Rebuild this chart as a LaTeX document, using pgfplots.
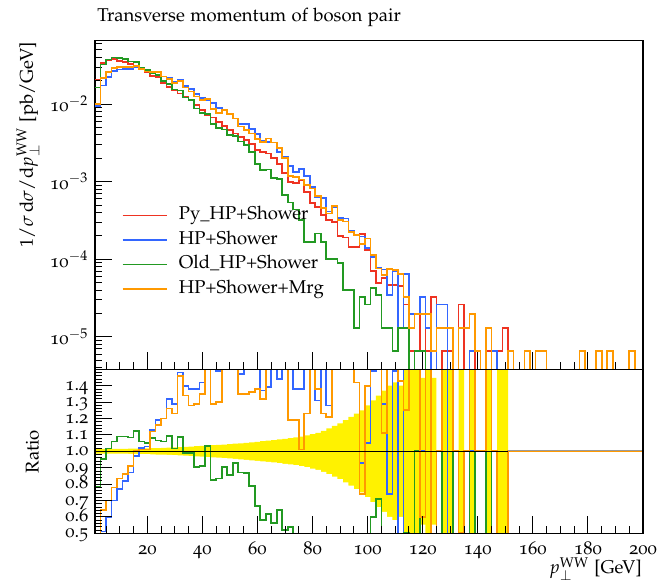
\documentclass[border=0pt]{standalone}
\usepackage[T1]{fontenc}
\usepackage[osf]{mathpazo}
\usepackage{pgfplots}
\pgfplotsset{compat=1.18}
\usepackage{pgfplotstable}

\definecolor{cred}{RGB}{238,51,34}
\definecolor{cblue}{RGB}{51,102,255}
\definecolor{cgreen}{RGB}{34,153,34}
\definecolor{corange}{RGB}{255,153,0}

\pgfplotstableread{
x y
1 0.0208
3 0.0340
5 0.0369
7 0.0377
9 0.0361
11 0.0348
13 0.0327
15 0.0309
17 0.0280
19 0.0261
21 0.0231
23 0.0221
25 0.0188
27 0.0167
29 0.0151
31 0.0137
33 0.0122
35 0.0113
37 0.00971
39 0.00838
41 0.00721
43 0.00673
45 0.00592
47 0.00520
49 0.00462
51 0.00419
53 0.00379
55 0.00344
57 0.00305
59 0.00255
61 0.00243
63 0.00231
65 0.00200
67 0.00169
69 0.00130
71 0.000998
73 0.000968
75 0.00105
77 0.000741
79 0.000525
81 0.000475
83 0.000372
85 0.000320
87 0.000304
89 0.000200
91 0.000191
93 0.000145
95 0.000145
97 0.000211
99 0.000132
101 0.0000711
103 0.0000489
105 0.0000568
107 0.0000466
109 0.0000466
111 0.0000455
113 0.000026
115 0.0000065
117 0.0000065
119 0.0000325
121 0.0000065
123 0.0000325
125 1e-9
127 0.0000065
129 0.0000065
131 1e-9
133 0.000026
135 1e-9
137 0.0000065
139 1e-9
141 1e-9
143 0.0000065
145 1e-9
147 0.0000065
149 0.000013
151 1e-9
201 1e-9
}\tred

\pgfplotstableread{
x y r
1 0.00936 0.45
3 0.01734 0.51
5 0.02214 0.60
7 0.02639 0.70
9 0.02780 0.77
11 0.02854 0.82
13 0.02845 0.87
15 0.02997 0.97
17 0.02856 1.02
19 0.02688 1.03
21 0.02610 1.13
23 0.02630 1.19
25 0.02256 1.20
27 0.02204 1.32
29 0.01948 1.29
31 0.02028 1.48
33 0.01708 1.40
35 0.01559 1.38
37 0.01340 1.38
39 0.01190 1.42
41 0.01118 1.55
43 0.01023 1.52
45 0.00882 1.49
47 0.00832 1.60
49 0.00748 1.62
51 0.00649 1.55
53 0.00557 1.47
55 0.00550 1.60
57 0.00473 1.55
59 0.00408 1.60
61 0.00333 1.37
63 0.00321 1.39
65 0.00320 1.60
67 0.00243 1.44
69 0.00211 1.62
71 0.00160 1.60
73 0.00134 1.38
75 0.00145 1.38
77 0.00117 1.58
79 0.000851 1.62
81 0.000622 1.31
83 0.000614 1.65
85 0.000410 1.28
87 0.000471 1.55
89 0.000340 1.70
91 0.000334 1.75
93 0.000232 1.60
95 0.000206 1.42
97 0.000196 0.93
99 0.000139 1.05
101 0.000106 1.49
103 0.0000782 1.60
105 0.0000733 1.29
107 0.0000345 0.74
109 0.0000694 1.49
111 0.000013 0.29
113 0.000065 2.5
115 0.0000195 3
117 0.0000195 3
119 0.0000325 1
121 0.000013 2
123 1e-9 0
125 0.000026 1
127 0.000026 4
129 1e-9 0
131 1e-9 1
133 1e-9 0
135 1e-9 1
137 0.0000065 1
139 0.0000065 1
141 1e-9 1
143 1e-9 0
145 0.0000065 1
147 1e-9 0
149 1e-9 0
151 1e-9 1
201 1e-9 1
}\tblue

\pgfplotstableread{
x y r
1 0.0163 0.785
3 0.0324 0.952
5 0.0376 1.018
7 0.0399 1.059
9 0.0393 1.09
11 0.0379 1.09
13 0.0355 1.085
15 0.0347 1.122
17 0.0297 1.059
19 0.0274 1.049
21 0.0249 1.079
23 0.0235 1.065
25 0.0199 1.059
27 0.0183 1.093
29 0.0154 1.018
31 0.0149 1.089
33 0.0121 0.988
35 0.0112 0.988
37 0.00877 0.903
39 0.00763 0.911
41 0.00744 1.032
43 0.00555 0.825
45 0.00494 0.835
47 0.00470 0.903
49 0.00395 0.856
51 0.00388 0.927
53 0.00330 0.87
55 0.00298 0.866
57 0.00241 0.789
59 0.00170 0.667
61 0.00141 0.581
63 0.00143 0.618
65 0.00112 0.561
67 0.00108 0.642
69 0.000676 0.52
71 0.000539 0.54
73 0.000436 0.45
75 0.000320 0.30
77 0.000168 0.23
79 0.000168 0.32
81 0.000215 0.45
83 0.000168 0.45
85 0.000100 0.31
87 0.000100 0.33
89 0.0000900 0.45
91 0.0000400 0.21
93 0.0000400 0.28
95 0.0000130 0.09
97 0.0000325 0.15
99 0.0000260 0.20
101 0.0000427 0.60
103 0.0000347 0.71
105 0.0000130 0.23
107 0.0000130 0.28
109 0.0000065 0.14
111 0.000013 0.29
113 0.000013 0.5
115 1e-9 0
117 0.0000065 1
119 0.0000065 0.2
121 1e-9 0
123 1e-9 0
125 1e-9 1
127 1e-9 0
129 1e-9 0
131 1e-9 1
133 1e-9 0
135 1e-9 1
137 1e-9 0
139 1e-9 1
141 1e-9 1
143 1e-9 0
145 1e-9 1
147 1e-9 0
149 1e-9 0
151 1e-9 1
201 1e-9 1
}\tgreen

\pgfplotstableread{
x y r
1 0.00998 0.48
3 0.02176 0.64
5 0.02583 0.70
7 0.02941 0.78
9 0.03014 0.835
11 0.02993 0.86
13 0.02976 0.91
15 0.03090 1.00
17 0.02828 1.01
19 0.02636 1.01
21 0.02587 1.12
23 0.02564 1.16
25 0.02256 1.20
27 0.02104 1.26
29 0.01857 1.23
31 0.02000 1.46
33 0.01635 1.34
35 0.01446 1.28
37 0.01253 1.29
39 0.01131 1.35
41 0.01154 1.60
43 0.00868 1.29
45 0.00770 1.30
47 0.00832 1.60
49 0.00739 1.60
51 0.00649 1.55
53 0.00512 1.35
55 0.00464 1.35
57 0.00415 1.36
59 0.00352 1.38
61 0.00321 1.32
63 0.00358 1.55
65 0.00320 1.60
67 0.00270 1.60
69 0.00202 1.55
71 0.00119 1.19
73 0.00115 1.19
75 0.00106 1.01
77 0.000911 1.23
79 0.000814 1.55
81 0.000656 1.38
83 0.000458 1.23
85 0.000387 1.21
87 0.000486 1.60
89 0.000320 1.60
91 0.000306 1.60
93 0.000225 1.55
95 0.000206 1.42
97 0.000156 0.74
99 0.000185 1.40
101 0.000114 1.60
103 0.0000758 1.55
105 0.0000630 1.11
107 0.0000746 1.60
109 0.0000722 1.55
111 0.000065 1.43
113 0.0000325 1.25
115 0.000013 2
117 0.0000195 3
119 0.0000195 0.6
121 0.0000195 3
123 0.0000065 0.2
125 0.000013 1
127 0.000013 2
129 0.000013 2
131 1e-9 1
133 0.000013 0.5
135 0.000013 1
137 0.0000195 3
139 0.0000065 1
141 1e-9 1
143 0.000013 2
145 1e-9 1
147 1e-9 0
149 1e-9 0
151 0.0000065 1
153 1e-9 1
155 1e-9 1
157 0.0000065 1
159 1e-9 1
161 0.0000065 1
163 0.0000065 1
165 1e-9 1
177 0.0000065 1
179 1e-9 1
183 0.0000065 1
185 1e-9 1
187 0.0000065 1
189 1e-9 1
195 0.0000065 1
197 1e-9 1
201 1e-9 1
}\torange

\pgfplotstableread{
x e
1 0.015
3 0.014
5 0.014
7 0.014
9 0.015
11 0.015
13 0.016
15 0.016
17 0.017
19 0.018
21 0.019
23 0.020
25 0.021
27 0.022
29 0.024
31 0.025
33 0.027
35 0.029
37 0.031
39 0.033
41 0.035
43 0.037
45 0.039
47 0.041
49 0.043
51 0.046
53 0.049
55 0.052
57 0.055
59 0.058
61 0.062
63 0.065
65 0.068
67 0.072
69 0.076
71 0.080
73 0.085
75 0.090
77 0.097
79 0.105
81 0.113
83 0.125
85 0.140
87 0.155
89 0.170
91 0.190
93 0.210
95 0.230
97 0.250
99 0.280
101 0.310
103 0.340
105 0.370
107 0.400
109 0.420
111 0.400
113 0.500
115 1.0
117 1.0
119 0.447
121 1.0
123 0.447
125 0
127 1.0
129 1.0
131 0
133 0.500
135 0
137 1.0
139 0
141 0
143 1.0
145 0
147 1.0
149 0.707
151 0
}\tband

\pgfplotsset{
  rivet/.style={
    scale only axis,
    width=295.92pt,
    xmin=1, xmax=200,
    axis line style={black, line width=0.6pt},
    tick style={black, line width=0.5pt},
    tick align=inside,
    xtick pos=left, ytick pos=left,
    major tick length=9.2pt,
    minor tick length=3.8pt,
    xtick={20,40,...,200},
    minor xtick={5,10,...,195},
  },
  hist/.style={const plot, line width=0.9pt},
}

\begin{document}
\begin{tikzpicture}
\path[use as bounding box] (0,0) rectangle (356.4pt,315.36pt);
\node[anchor=base west, inner sep=0pt] at (52.4pt,304pt) {Transverse momentum of boson pair};

\begin{axis}[rivet,
  at={(51.3pt,115.94pt)}, anchor=south west,
  height=177.44pt,
  ymode=log, log basis y=10,
  ymin=3.81e-6, ymax=0.0655,
  xticklabels={},
  ytick={1e-5,1e-4,1e-3,1e-2},
  yticklabels={10$^{-5}$,10$^{-4}$,10$^{-3}$,10$^{-2}$},
  minor ytick={4e-6,5e-6,6e-6,7e-6,8e-6,9e-6,2e-5,3e-5,4e-5,5e-5,6e-5,7e-5,8e-5,9e-5,2e-4,3e-4,4e-4,5e-4,6e-4,7e-4,8e-4,9e-4,2e-3,3e-3,4e-3,5e-3,6e-3,7e-3,8e-3,9e-3,2e-2,3e-2,4e-2,5e-2,6e-2},
  legend cell align=left,
  legend image code/.code={\draw[#1, sharp plot, line width=0.9pt] (0pt,0pt) -- (23.8pt,0pt);},
  legend style={draw=none, fill=none, at={(rel axis cs:0.048,0.507)}, anchor=north west,
    inner sep=0pt, row sep=0pt,
    /tikz/every odd column/.append style={column sep=4.2pt},
    nodes={inner ysep=1.9pt, text height=7pt, text depth=2.5pt}},
]
\addplot[hist, cred] table[x=x, y=y] {\tred};
\addlegendentry{Py\_HP+Shower}
\addplot[hist, cblue] table[x=x, y=y] {\tblue};
\addlegendentry{HP+Shower}
\addplot[hist, cgreen] table[x=x, y=y] {\tgreen};
\addlegendentry{Old\_HP+Shower}
\addplot[hist, corange] table[x=x, y=y] {\torange};
\addlegendentry{HP+Shower+Mrg}
\end{axis}

\begin{axis}[rivet,
  at={(51.3pt,27.38pt)}, anchor=south west,
  height=88.56pt,
  axis on top,
  ymin=0.5, ymax=1.5,
  ytick={0.5,0.6,0.7,0.8,0.9,1.0,1.1,1.2,1.3,1.4},
  minor ytick={0.52,0.54,0.56,0.58,0.62,0.64,0.66,0.68,0.72,0.74,0.76,0.78,0.82,0.84,0.86,0.88,0.92,0.94,0.96,0.98,1.02,1.04,1.06,1.08,1.12,1.14,1.16,1.18,1.22,1.24,1.26,1.28,1.32,1.34,1.36,1.38,1.42,1.44,1.46,1.48},
  yticklabel style={inner ysep=0pt, text height=5pt, text depth=0pt, /pgf/number format/.cd, fixed, fixed zerofill, precision=1, assume math mode=true},
  xticklabel style={inner ysep=0pt, text height=5pt, text depth=0pt, /pgf/number format/assume math mode=true, anchor=base, yshift=-11.7pt},
]
\addplot[ybar interval, fill=yellow, draw=none] table[x=x, y expr=1+\thisrow{e}] {\tband};
\addplot[ybar interval, fill=white, draw=none] table[x=x, y expr=1-\thisrow{e}] {\tband};
\addplot[sharp plot, cred, line width=0.9pt] coordinates {(151,1) (201,1)};
\addplot[hist, cblue] table[x=x, y=r] {\tblue};
\addplot[hist, cgreen] table[x=x, y=r] {\tgreen};
\addplot[hist, corange] table[x=x, y=r] {\torange};
\addplot[sharp plot, black, line width=0.6pt] coordinates {(1,1) (151,1)};
\addplot[sharp plot, black!40, line width=0.5pt] coordinates {(151,1.004) (201,1.004)};
\end{axis}

\node[rotate=90, anchor=east, inner sep=0pt] at (15.1pt,292.7pt) {$1/\sigma\,\mathrm{d}\sigma/\mathrm{d}p_\perp^{\mathrm{WW}}$ [pb/GeV]};
\node[rotate=90, inner sep=0pt] at (17.55pt,71.55pt) {Ratio};
\node[anchor=base east, inner sep=0pt] at (346.7pt,5.5pt) {$p_\perp^{\mathrm{WW}}$ [GeV]};
\end{tikzpicture}
\end{document}
